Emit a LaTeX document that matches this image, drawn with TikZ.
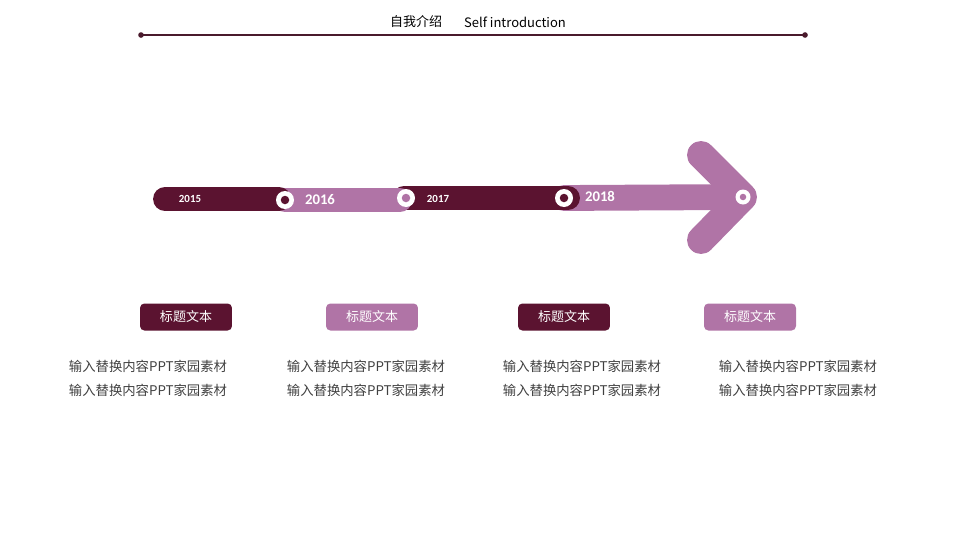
\documentclass[tikz,border=0pt]{standalone}
\usepackage{fontspec}
\setmainfont{Carlito}
\newfontfamily\cjk{Noto Sans CJK SC}
\usetikzlibrary{
    calc,
    positioning,
}
\definecolor{wine}{HTML}{5B1330}
\definecolor{orchid}{HTML}{B074A6}
\definecolor{ruleline}{HTML}{4A1A2C}
\definecolor{bodytext}{HTML}{404040}

\begin{document}
\begin{tikzpicture}[x=0.02cm,y=-0.02cm]

                \tikzstyle{commonTag}=[rectangle, rounded corners=2.5pt, inner sep=0pt, minimum width=1.84cm, minimum height=0.54cm, text=white, font=\cjk\fontsize{7.4}{8}\selectfont]
                \tikzstyle{darkTag}=[commonTag, fill=wine]
                \tikzstyle{lightTag}=[commonTag, fill=orchid]
                \tikzstyle{note}=[align=center, text=bodytext, font=\cjk\fontsize{7.6}{13.6}\selectfont]
                \tikzstyle{segment}=[line width=13.6pt, line cap=round]
                \tikzstyle{ring}=[circle, fill=white, inner sep=0pt, minimum size=0.36cm]
                \tikzstyle{dot}=[circle, inner sep=0pt, minimum size=0.17cm]
                \tikzstyle{smallYear}=[text=white, font=\bfseries\fontsize{6.2}{7}\selectfont]
                \tikzstyle{bigYear}=[text=white, font=\bfseries\fontsize{8.4}{9}\selectfont]

                \useasboundingbox (0,0) rectangle (960,548);

                % Title and rule
                \node at (416,22) (TZ) {\cjk\fontsize{7.4}{8}\selectfont 自我介绍};
                \node at (515,22) (TE) {\cjk\fontsize{7.4}{8}\selectfont Self introduction};
                \coordinate (RL) at (141,35);
                \coordinate (RR) at (805,35);
                \draw [ruleline, line width=0.8pt] (RL) -- (RR);
                \fill [ruleline] (RL) circle (1.6pt) (RR) circle (1.6pt);

                % Timeline points
                \coordinate (S15) at (165,199);
                \coordinate (P16) at (285,200);
                \coordinate (P17) at (406,198);
                \coordinate (P18) at (564,198);
                \coordinate (TIP) at (743,197);

                % Bar and arrow
                \draw [orchid, segment, line width=14.7pt] (P18) -- (TIP);
                \draw [orchid, line width=15.9pt, line cap=round, line join=round] (701,155) -- (TIP) -- (701,240);
                \draw [wine, segment] ($(P17)+(-2,0)$) -- ($(P18)+(4,0)$);
                \draw [orchid, segment] (P16) -- ($(P17)+(-6,2)$);
                \draw [wine, segment] (S15) -- ($(P16)+(-6,-1)$);

                % Markers
                \node at (P16) [ring] (R16) {};
                \node at (P16) [dot, fill=wine] {};
                \node at (P17) [ring] (R17) {};
                \node at (P17) [dot, fill=orchid] {};
                \node at (P18) [ring] (R18) {};
                \node at (P18) [dot, fill=wine] {};
                \node at (TIP) [ring, minimum size=0.3cm] (RT) {};
                \node at (TIP) [dot, minimum size=0.13cm, fill=orchid] {};

                % Years
                \node at (190,199) [smallYear] (Y15) {2015};
                \node at (320,200) [bigYear] (Y16) {2016};
                \node at (438,199) [smallYear] (Y17) {2017};
                \node at (600,196) [bigYear] (Y18) {2018};

                % Titles and notes
                \node at (186,317) [darkTag] (T1) {标题文本};
                \node at (372,317) [lightTag] (T2) {标题文本};
                \node at (564,317) [darkTag] (T3) {标题文本};
                \node at (750,317) [lightTag] (T4) {标题文本};
                \node at (148,378) [note] (N1) {输入替换内容PPT家园素材\\输入替换内容PPT家园素材};
                \node at (366,378) [note] (N2) {输入替换内容PPT家园素材\\输入替换内容PPT家园素材};
                \node at (582,378) [note] (N3) {输入替换内容PPT家园素材\\输入替换内容PPT家园素材};
                \node at (798,378) [note] (N4) {输入替换内容PPT家园素材\\输入替换内容PPT家园素材};
            \end{tikzpicture}
\end{document}
